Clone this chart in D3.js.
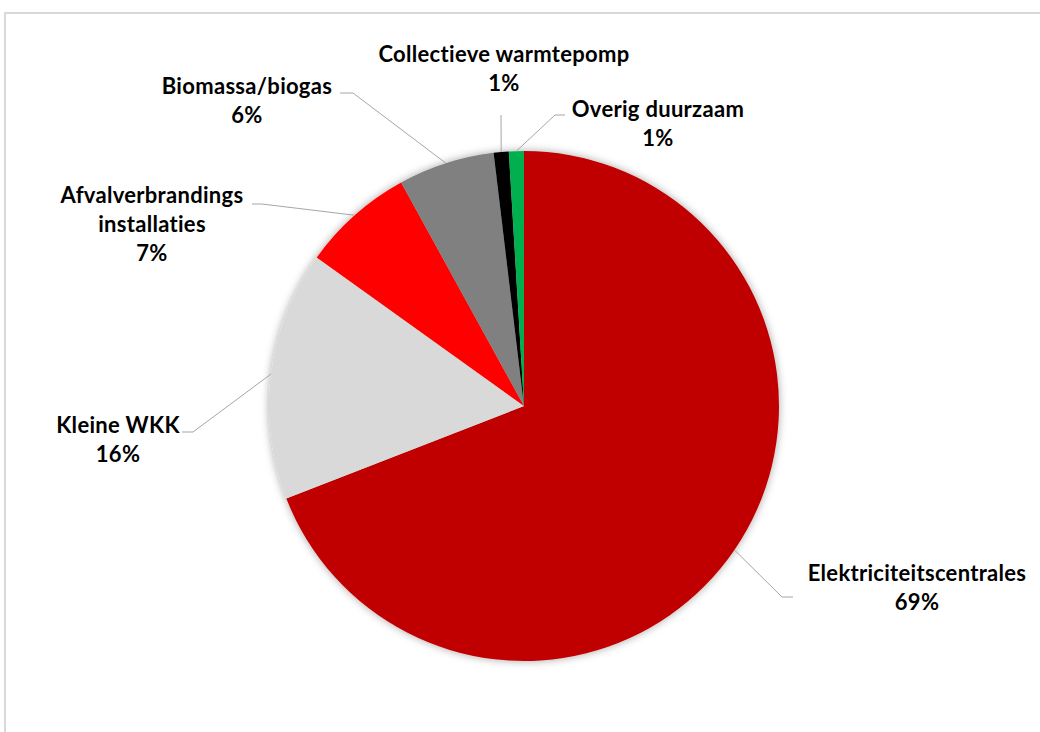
<!DOCTYPE html>
<html>
<head>
<meta charset="utf-8">
<script src="https://cdn.jsdelivr.net/npm/d3@7"></script>
<style>
  html, body { margin: 0; padding: 0; background: #fff; }
  svg { display: block; }
  text { font-family: Lato, "Open Sans", sans-serif; font-weight: bold; fill: #000; }
</style>
</head>
<body>
<svg id="chart" width="1040" height="732"></svg>
<script>
// ---- Data ----
const categories = ["Elektriciteitscentrales", "Kleine WKK", "Afvalverbrandings installaties", "Biomassa/biogas", "Collectieve warmtepomp", "Overig duurzaam"];
const values = [69.1, 15.8, 7.1, 6.1, 0.95, 0.95];
const labelLines = [["Elektriciteitscentrales"], ["Kleine WKK"], ["Afvalverbrandings", "installaties"], ["Biomassa/biogas"], ["Collectieve warmtepomp"], ["Overig duurzaam"]];
const percentLabels = ["69%", "16%", "7%", "6%", "1%", "1%"];
const colors = ["#C00000", "#D9D9D9", "#FF0000", "#808080", "#000000", "#00B050"];

// ---- Layout ----
const W = 1040, H = 732;
const cx = 524, cy = 406, R = 255;
const lineH = 29;
// label placement: text centre x, first baseline y, elbow point, line end point
const labelPos = [
  { x: 917, y: 581, elbow: [782, 597], end: [793, 597] },
  { x: 118, y: 433, elbow: [193, 432], end: [182, 432] },
  { x: 152, y: 203, elbow: [262, 204], end: [252, 204] },
  { x: 247, y: 94,  elbow: [353, 93],  end: [340, 93] },
  { x: 504, y: 62,  elbow: [501, 115], end: [501, 115] },
  { x: 658, y: 117, elbow: [555, 115], end: [565, 115] }
];

const svg = d3.select("#chart");

// outer border (clipped by window on right / bottom)
svg.append("rect")
  .attr("x", 5).attr("y", 13)
  .attr("width", W + 20).attr("height", H + 20)
  .attr("fill", "#fff")
  .attr("stroke", "#D9D9D9").attr("stroke-width", 2);

const defs = svg.append("defs");
const f = defs.append("filter").attr("id", "shadow")
  .attr("x", "-10%").attr("y", "-10%").attr("width", "120%").attr("height", "120%");
f.append("feDropShadow").attr("dx", 0).attr("dy", 0).attr("stdDeviation", 4)
  .attr("flood-color", "#000").attr("flood-opacity", 0.35);

const data = categories.map((c, i) => ({ name: c, value: values[i], i }));
const pie = d3.pie().value(d => d.value).sort(null);
const arcs = pie(data);
const arc = d3.arc().innerRadius(0).outerRadius(R);

const g = svg.append("g").attr("transform", `translate(${cx},${cy})`);
const pg = g.append("g").attr("filter", "url(#shadow)");
pg.selectAll("path").data(arcs).join("path")
  .attr("d", arc)
  .attr("fill", d => colors[d.data.i]);

// leader lines
arcs.forEach(a => {
  const p = labelPos[a.data.i];
  const mid = (a.startAngle + a.endAngle) / 2;
  const sx = cx + R * Math.sin(mid), sy = cy - R * Math.cos(mid);
  svg.append("polyline")
    .attr("points", [[sx, sy], p.elbow, p.end].map(q => q.join(",")).join(" "))
    .attr("fill", "none")
    .attr("stroke", "#A6A6A6")
    .attr("stroke-width", 1);
});

// labels
arcs.forEach(a => {
  const i = a.data.i, p = labelPos[i];
  const lines = labelLines[i].concat([percentLabels[i]]);
  const t = svg.append("text")
    .attr("text-anchor", "middle")
    .attr("font-size", 22)
    .attr("letter-spacing", 0.3);
  lines.forEach((ln, k) => {
    t.append("tspan").attr("x", p.x).attr("y", p.y + k * lineH).text(ln);
  });
});
</script>
</body>
</html>
